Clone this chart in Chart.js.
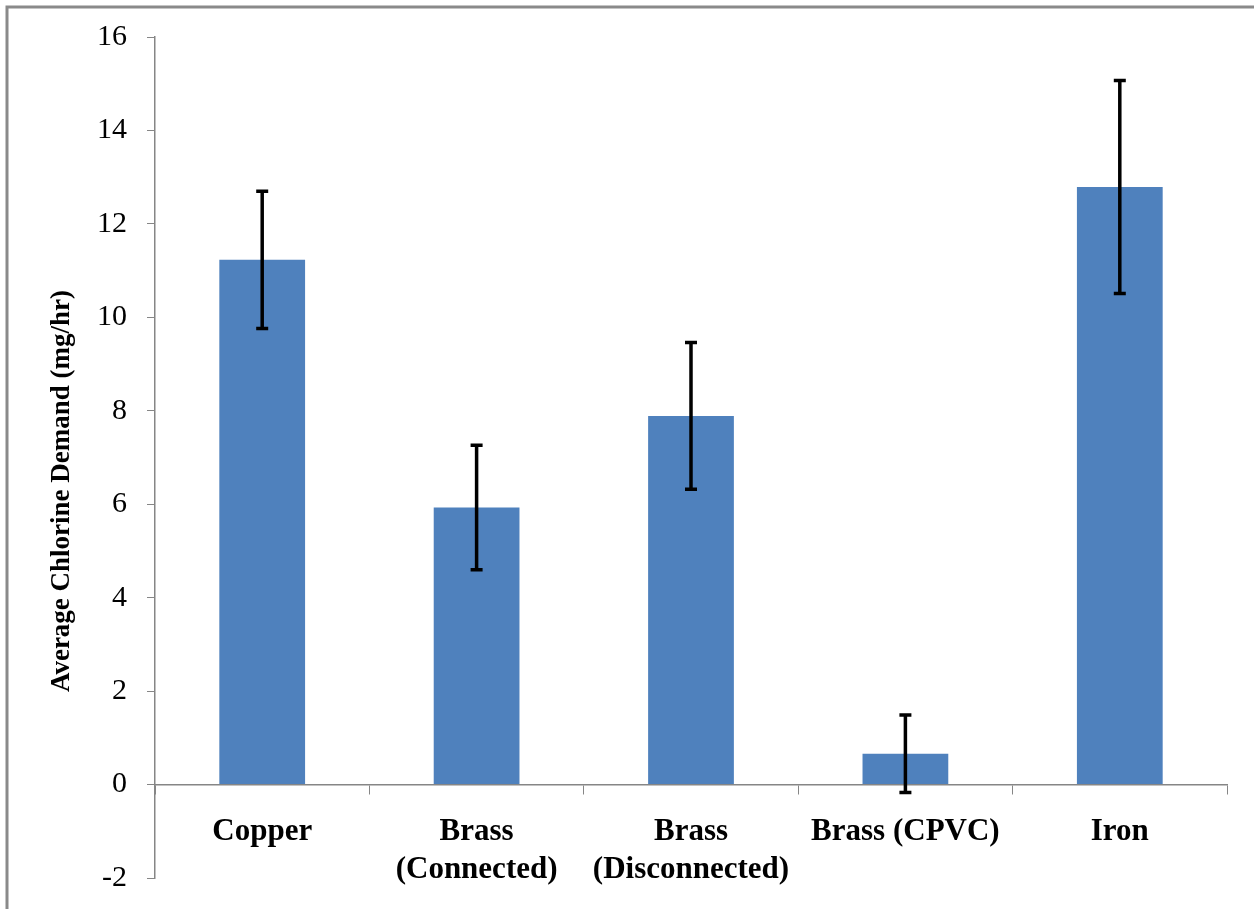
<!DOCTYPE html>
<html>
<head>
<meta charset="utf-8">
<script src="https://cdn.jsdelivr.net/npm/chart.js@4/dist/chart.umd.min.js"></script>
<style>
  html, body { margin: 0; padding: 0; background: #fff; }
  #wrap { width: 1254px; height: 909px; }
</style>
</head>
<body>
<div id="wrap"><canvas id="chart" width="1254" height="909"></canvas></div>
<script>
var categories = [["Copper"], ["Brass", "(Connected)"], ["Brass", "(Disconnected)"], ["Brass (CPVC)"], ["Iron"]];
var means = [11.23, 5.93, 7.89, 0.66, 12.79];
var errors = [1.47, 1.33, 1.57, 0.83, 2.28];
var yTitle = "Average Chlorine Demand (mg/hr)";

var axisGray = "#868686";
var serif = "'Liberation Serif', 'Times New Roman', serif";

// frame round the picture, like the exported slide
var frame = {
  id: "frame",
  beforeDraw: function(chart) {
    var ctx = chart.ctx;
    ctx.save();
    ctx.fillStyle = "#fff";
    ctx.fillRect(0, 0, chart.width, chart.height);
    ctx.strokeStyle = "#8a8a8a";
    ctx.lineWidth = 3;
    ctx.beginPath();
    ctx.moveTo(7, chart.height);
    ctx.lineTo(7, 7);
    ctx.lineTo(chart.width, 7);
    ctx.stroke();
    ctx.restore();
  }
};

var errorBars = {
  id: "errorBars",
  afterDatasetsDraw: function(chart) {
    var meta = chart.getDatasetMeta(0);
    var y = chart.scales.y;
    var ctx = chart.ctx;
    ctx.save();
    ctx.strokeStyle = "#000";
    ctx.lineWidth = 3.5;
    for (var i = 0; i < meta.data.length; i++) {
      var x = meta.data[i].x;
      var top = y.getPixelForValue(means[i] + errors[i]);
      var bot = y.getPixelForValue(means[i] - errors[i]);
      ctx.beginPath();
      ctx.moveTo(x, top); ctx.lineTo(x, bot);
      ctx.moveTo(x - 6, top); ctx.lineTo(x + 6, top);
      ctx.moveTo(x - 6, bot); ctx.lineTo(x + 6, bot);
      ctx.stroke();
    }
    ctx.restore();
  }
};

var axisTitle = {
  id: "axisTitle",
  afterDraw: function(chart) {
    var ctx = chart.ctx;
    ctx.save();
    ctx.translate(62, 491);
    ctx.rotate(-Math.PI / 2);
    ctx.font = "bold 27px " + serif;
    ctx.fillStyle = "#000";
    ctx.textAlign = "center";
    ctx.textBaseline = "middle";
    ctx.fillText(yTitle, 0, 0);
    ctx.restore();
  }
};

var ctx = document.getElementById("chart").getContext("2d");
var chart = new Chart(ctx, {
  type: "bar",
  data: {
    labels: categories,
    datasets: [{
      data: means,
      backgroundColor: "#4F81BD",
      borderWidth: 0,
      barPercentage: 0.4,
      categoryPercentage: 1.0
    }]
  },
  options: {
    responsive: false,
    animation: false,
    layout: { padding: { left: 8, top: 37, right: 27, bottom: 31 } },
    plugins: {
      legend: { display: false },
      tooltip: { enabled: false }
    },
    scales: {
      x: {
        position: { y: 0 },
        grid: {
          offset: true,
          drawOnChartArea: false,
          drawTicks: true,
          tickLength: 9,
          color: axisGray
        },
        border: { color: axisGray, width: 1.5 },
        ticks: {
          color: "#000",
          padding: 20,
          maxRotation: 0,
          autoSkip: false,
          font: { family: serif, size: 31, weight: "bold", lineHeight: 1.22 }
        }
      },
      y: {
        min: -2,
        max: 16,
        afterFit: function(scale) {
          scale.width = 147;
          scale.paddingTop = 0;
          scale.paddingBottom = 0;
        },
        grid: {
          drawOnChartArea: false,
          drawTicks: true,
          tickLength: 8,
          color: axisGray
        },
        border: { color: axisGray, width: 1.5 },
        ticks: {
          stepSize: 2,
          color: "#000",
          padding: 20,
          font: { family: serif, size: 30 }
        }
      }
    }
  },
  plugins: [frame, errorBars, axisTitle]
});
</script>
</body>
</html>
